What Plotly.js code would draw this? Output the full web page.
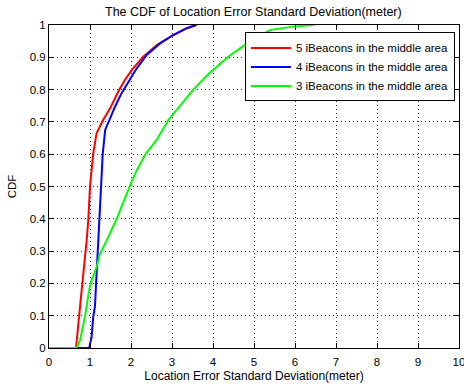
<!DOCTYPE html>
<html>
<head>
<meta charset="utf-8">
<script src="https://cdn.plot.ly/plotly-3.0.1.min.js"></script>
<style>html,body{margin:0;padding:0;background:#fff;}#chart{width:464px;height:387px;}</style>
</head>
<body>
<div id="chart"></div>
<script>
// Series names
const seriesNames = ["5 iBeacons in the middle area", "4 iBeacons in the middle area", "3 iBeacons in the middle area"];

// 5 iBeacons (red)
const redX = [0, 0.66, 0.72, 0.79, 0.86, 0.92, 0.96, 1.0, 1.08, 1.16, 1.32, 1.49, 1.69, 1.85, 2.02, 2.3, 2.63, 3.03, 3.36, 3.6];
const redY = [0, 0, 0.08, 0.18, 0.26, 0.334, 0.40, 0.5, 0.603, 0.665, 0.706, 0.742, 0.794, 0.83, 0.861, 0.902, 0.938, 0.969, 0.99, 1.0];

// 4 iBeacons (blue)
const blueX = [0, 0.98, 1.04, 1.08, 1.12, 1.16, 1.2, 1.23, 1.27, 1.31, 1.37, 1.49, 1.61, 1.77, 1.93, 2.14, 2.38, 2.71, 3.03, 3.36, 3.58];
const blueY = [0, 0, 0.035, 0.097, 0.128, 0.23, 0.33, 0.4, 0.5, 0.6, 0.675, 0.711, 0.747, 0.789, 0.824, 0.866, 0.907, 0.943, 0.969, 0.99, 1.0];

// 3 iBeacons (green)
const greenX = [0, 0.67, 0.76, 0.82, 0.88, 0.98, 1.04, 1.16, 1.24, 1.41, 1.65, 1.95, 2.1, 2.35, 2.63, 2.91, 3.2, 3.52, 3.9, 4.4, 4.8, 5.1, 5.4, 5.95, 6.45];
const greenY = [0, 0, 0.025, 0.06, 0.1, 0.18, 0.21, 0.25, 0.29, 0.334, 0.4, 0.495, 0.54, 0.6, 0.645, 0.706, 0.75, 0.8, 0.85, 0.905, 0.94, 0.965, 0.985, 0.995, 1.0];

// Tick labels
const xTicks = [0, 1, 2, 3, 4, 5, 6, 7, 8, 9, 10];
const yTicks = [0, 0.1, 0.2, 0.3, 0.4, 0.5, 0.6, 0.7, 0.8, 0.9, 1];
const yTickText = ["0", "0.1", "0.2", "0.3", "0.4", "0.5", "0.6", "0.7", "0.8", "0.9", "1"];

const font = "Liberation Sans, Arial, sans-serif";

const traces = [
  {x: redX, y: redY, name: seriesNames[0], mode: "lines", line: {color: "rgb(255,0,0)", width: 2}},
  {x: blueX, y: blueY, name: seriesNames[1], mode: "lines", line: {color: "rgb(0,0,255)", width: 2}},
  {x: greenX, y: greenY, name: seriesNames[2], mode: "lines", line: {color: "rgb(0,255,0)", width: 2}}
];

const axisCommon = {
  showline: true, linecolor: "#000", linewidth: 1, mirror: "ticks",
  ticks: "inside", ticklen: 5, tickcolor: "#000", tickwidth: 1,
  showgrid: true, gridcolor: "#333", gridwidth: 1, griddash: "1px,3px",
  zeroline: false, tickfont: {family: font, size: 11.5, color: "#000"},
  ticklabeloverflow: "allow"
};

const layout = {
  width: 464, height: 387,
  margin: {l: 49, r: 5, t: 25, b: 39},
  paper_bgcolor: "#fff", plot_bgcolor: "#fff",
  font: {family: font, size: 11, color: "#000"},
  title: {text: "The CDF of Location Error Standard Deviation(meter)", font: {family: font, size: 12.5, color: "#000"}, x: 0.546, xanchor: "center", y: 0.97, yanchor: "middle"},
  xaxis: Object.assign({}, axisCommon, {
    range: [0, 10], tickvals: xTicks, ticktext: xTicks.map(String), ticklabelstandoff: 3,
    title: {text: "Location Error Standard Deviation(meter)", font: {family: font, size: 12, color: "#000"}, standoff: 4}
  }),
  yaxis: Object.assign({}, axisCommon, {
    range: [0, 1], tickvals: yTicks, ticktext: yTickText,
    title: {text: "CDF", font: {family: font, size: 11.5, color: "#000"}, standoff: 10}
  }),
  showlegend: true,
  legend: {
    x: 0.990, xanchor: "right", y: 0.977, yanchor: "top",
    bgcolor: "#fff", bordercolor: "#000", borderwidth: 1,
    font: {family: font, size: 11.5, color: "#000"},
    tracegroupgap: 0, itemwidth: 40
  }
};

Plotly.newPlot("chart", traces, layout, {staticPlot: true, displayModeBar: false});
</script>
</body>
</html>
